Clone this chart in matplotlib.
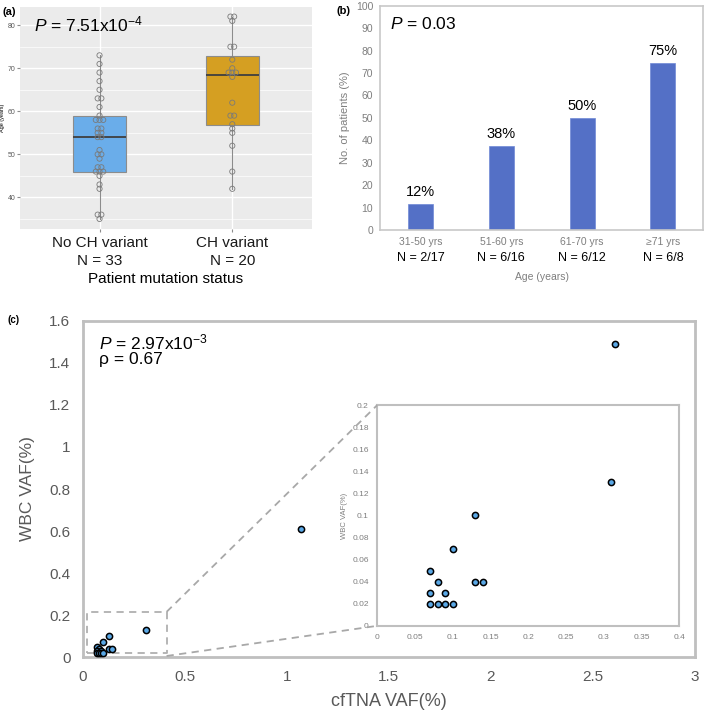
import numpy as np
import matplotlib
matplotlib.use('Agg')
import matplotlib.pyplot as plt

plt.rcParams['font.family'] = ['Liberation Sans', 'DejaVu Sans']
plt.rcParams['mathtext.fontset'] = 'custom'
plt.rcParams['mathtext.rm'] = 'Liberation Sans'
plt.rcParams['mathtext.it'] = 'Liberation Sans:italic'

# ---- panel (a) data: age by mutation status
groups = ['No CH variant\nN = 33', 'CH variant\nN = 20']
age_no_ch = [73, 71, 69, 67, 65, 63, 63, 61, 59, 58, 58, 58, 56, 56, 55, 55, 54,
             54, 51, 50, 50, 49, 47, 47, 46, 46, 46, 45, 43, 42, 36, 36, 35]
age_ch = [82, 82, 81, 75, 75, 72, 70, 69, 69, 69, 68, 62, 59, 59, 57, 56, 55,
          52, 46, 42]

# ---- panel (b) data: % patients with CH by age group
age_bins = ['31-50 yrs', '51-60 yrs', '61-70 yrs', '\u226571 yrs']
bin_counts = ['N = 2/17', 'N = 6/16', 'N = 6/12', 'N = 6/8']
pct_ch = [11.8, 37.5, 50.0, 74.5]
pct_labels = ['12%', '38%', '50%', '75%']

# ---- panel (c) data: cfTNA VAF vs WBC VAF
cftna_vaf = [0.07, 0.08, 0.07, 0.09, 0.07, 0.08, 0.09, 0.10, 0.10, 0.13, 0.13,
             0.14, 0.31, 1.07, 2.61]
wbc_vaf = [0.05, 0.04, 0.03, 0.03, 0.02, 0.02, 0.02, 0.02, 0.07, 0.10, 0.04,
           0.04, 0.13, 0.61, 1.49]

fig = plt.figure(figsize=(7.09, 7.12), dpi=100)

# ================= (a) =================
ax_a = fig.add_axes([0.028, 0.678, 0.412, 0.312])
ax_a.set_facecolor('#EBEBEB')

bp = ax_a.boxplot([age_no_ch, age_ch], positions=[1, 2], widths=0.4,
                  whis=(0, 100), patch_artist=True, showcaps=False,
                  showfliers=False,
                  medianprops=dict(color='#3f3f3f', lw=1.3),
                  whiskerprops=dict(color='#8c8c8c', lw=0.8),
                  boxprops=dict(edgecolor='#8c8c8c', lw=0.8))
for patch, col in zip(bp['boxes'], ['#6AADEA', '#D59F22']):
    patch.set_facecolor(col)

for pos, vals in zip([1, 2], [age_no_ch, age_ch]):
    uniq, cnt = np.unique(vals, return_counts=True)
    for u, c in zip(uniq, cnt):
        xs = pos + (np.arange(c) - (c - 1) / 2) * 0.028
        ax_a.scatter(xs, [u] * c, s=14, facecolors='none',
                     edgecolors='#7a7a7a', lw=0.6, zorder=4)

ax_a.set_xlim(0.4, 2.6)
ax_a.set_ylim(32.6, 84.2)
ax_a.set_yticks([40, 50, 60, 70, 80])
ax_a.set_yticks([35, 45, 55, 65, 75], minor=True)
ax_a.set_xticks([1, 2])
ax_a.set_xticklabels(groups, fontsize=11, linespacing=1.35, color='#1a1a1a')
ax_a.grid(which='major', color='white', lw=1.0)
ax_a.grid(which='minor', axis='y', color='white', lw=0.5)
ax_a.set_axisbelow(True)
for s in ax_a.spines.values():
    s.set_visible(False)
ax_a.tick_params(axis='x', length=2, color='#8c8c8c', pad=3)
ax_a.tick_params(axis='y', which='major', length=2, color='#8c8c8c',
                 labelsize=5, labelcolor='#5a5a5a', pad=1)
ax_a.tick_params(axis='y', which='minor', length=0)
ax_a.set_ylabel('Age (years)', fontsize=4, labelpad=2)
ax_a.set_xlabel('Patient mutation status', fontsize=11, labelpad=3)
ax_a.text(0.05, 0.92, r'$P$ = 7.51x10$^{-4}$', transform=ax_a.transAxes,
          fontsize=12.5, va='center', ha='left')
fig.text(0.004, 0.99, '(a)', fontsize=8, fontweight='bold', va='top')

# ================= (b) =================
ax_b = fig.add_axes([0.536, 0.677, 0.456, 0.315])
xb = np.arange(len(age_bins))
ax_b.bar(xb, pct_ch, width=0.31, color='#5470C6', edgecolor='#6f88d6', lw=0.5)
for x, v, lab in zip(xb, pct_ch, pct_labels):
    ax_b.text(x, v + 2, lab, ha='center', va='bottom', fontsize=10.5)
ax_b.set_xlim(-0.5, 3.5)
ax_b.set_ylim(0, 100)
ax_b.set_yticks(np.arange(0, 101, 10))
ax_b.set_xticks(xb)
ax_b.set_xticklabels(age_bins, fontsize=7.5, color='#7f7f7f')
for x, n in zip(xb, bin_counts):
    ax_b.text(x, -0.125, n, transform=ax_b.get_xaxis_transform(),
              ha='center', va='center', fontsize=9)
ax_b.tick_params(length=0, labelsize=7.5, labelcolor='#7f7f7f', pad=5)
for s in ax_b.spines.values():
    s.set_color('#c8c8c8')
    s.set_linewidth(1.2)
ax_b.set_ylabel('No. of patients (%)', fontsize=8, color='#7f7f7f', labelpad=4)
ax_b.set_xlabel('Age (years)', fontsize=7.5, color='#7f7f7f', labelpad=18)
ax_b.text(0.03, 0.92, r'$P$ = 0.03', transform=ax_b.transAxes,
          fontsize=12.5, va='center', ha='left')
fig.text(0.474, 0.992, '(b)', fontsize=8, fontweight='bold', va='top')

# ================= (c) =================
ax_c = fig.add_axes([0.117, 0.0772, 0.863, 0.472])
ax_c.scatter(cftna_vaf, wbc_vaf, s=20, color='#5AA8E6', edgecolors='black',
             lw=1.1, zorder=4)
ax_c.set_xlim(0, 3)
ax_c.set_ylim(0, 1.6)
ax_c.set_xticks([0, 0.5, 1, 1.5, 2, 2.5, 3])
ax_c.set_xticklabels(['0', '0.5', '1', '1.5', '2', '2.5', '3'],
                     fontsize=11, color='#595959')
ax_c.set_yticks(np.arange(0, 1.61, 0.2))
ax_c.set_yticklabels(['0', '0.2', '0.4', '0.6', '0.8', '1', '1.2', '1.4', '1.6'],
                     fontsize=11, color='#595959')
ax_c.tick_params(length=0, pad=9)
for s in ax_c.spines.values():
    s.set_color('#bfbfbf')
    s.set_linewidth(2)
ax_c.set_xlabel('cfTNA VAF(%)', fontsize=13, color='#595959', labelpad=7)
ax_c.set_ylabel('WBC VAF(%)', fontsize=12.5, color='#595959', labelpad=10)
ax_c.text(0.026, 0.9375, r'$P$ = 2.97x10$^{-3}$', transform=ax_c.transAxes,
          fontsize=12.5, va='center', ha='left')
ax_c.text(0.026, 0.884, '\u03c1 = 0.67', transform=ax_c.transAxes,
          fontsize=12.5, va='center', ha='left')
fig.text(0.011, 0.558, '(c)', fontsize=7, fontweight='bold', va='top')

# zoom rectangle in the main plot
zx0, zx1, zy0, zy1 = 0.02, 0.41, 0.02, 0.215
ax_c.plot([zx0, zx1, zx1, zx0, zx0], [zy0, zy0, zy1, zy1, zy0],
          ls=(0, (4, 3)), color='#b0b0b0', lw=1.3, zorder=2)

# ---- inset
ax_i = fig.add_axes([0.532, 0.121, 0.426, 0.310])
ax_i.scatter(cftna_vaf, wbc_vaf, s=20, color='#5AA8E6', edgecolors='black',
             lw=1.1, zorder=4, clip_on=True)
ax_i.set_xlim(0, 0.4)
ax_i.set_ylim(0, 0.2)
ax_i.set_xticks(np.arange(0, 0.41, 0.05))
ax_i.set_xticklabels(['0', '0.05', '0.1', '0.15', '0.2', '0.25', '0.3',
                      '0.35', '0.4'], fontsize=6, color='#7f7f7f')
ax_i.set_yticks(np.arange(0, 0.201, 0.02))
ax_i.set_yticklabels(['0', '0.02', '0.04', '0.06', '0.08', '0.1', '0.12',
                      '0.14', '0.16', '0.18', '0.2'], fontsize=6,
                     color='#7f7f7f')
ax_i.tick_params(length=0, pad=6)
for s in ax_i.spines.values():
    s.set_color('#bfbfbf')
    s.set_linewidth(1.5)
ax_i.set_ylabel('WBC VAF(%)', fontsize=5.5, color='#7f7f7f', labelpad=3)

# connector lines from the rectangle to the inset corners
for (px, py), (ix, iy) in [((zx1, zy1), (0, 1)), ((zx1, zy0 - 0.015), (0, 0))]:
    fx, fy = fig.transFigure.inverted().transform(
        ax_c.transData.transform((px, py)))
    gx, gy = fig.transFigure.inverted().transform(
        ax_i.transAxes.transform((ix, iy)))
    fig.add_artist(plt.Line2D([fx, gx], [fy, gy], transform=fig.transFigure,
                              ls=(0, (4, 3)), color='#a8a8a8', lw=1.3))

fig.savefig('out.png', dpi=100)
